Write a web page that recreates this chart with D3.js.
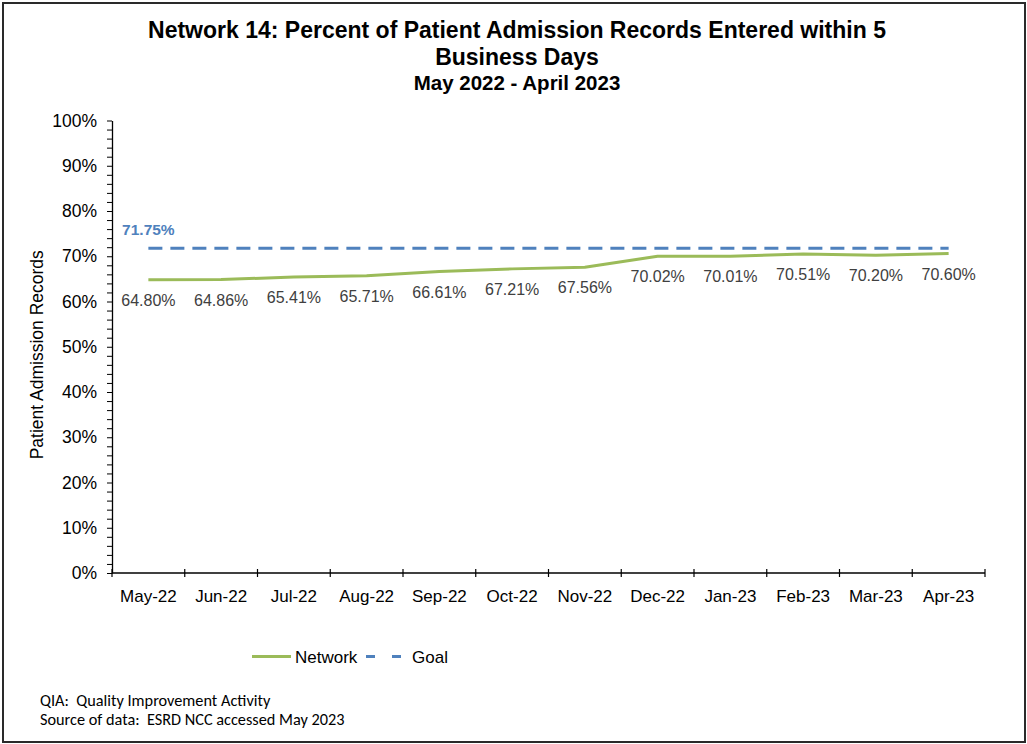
<!DOCTYPE html>
<html>
<head>
<meta charset="utf-8">
<script src="https://cdn.jsdelivr.net/npm/d3@7"></script>
<style>
  html, body { margin: 0; padding: 0; background: #fff; }
  svg { display: block; }
  .pre { white-space: pre; }
</style>
</head>
<body>
<svg id="chart" width="1027" height="744"></svg>
<script>
// Monthly categories and measured rates (percent)
const months = ["May-22", "Jun-22", "Jul-22", "Aug-22", "Sep-22", "Oct-22",
                "Nov-22", "Dec-22", "Jan-23", "Feb-23", "Mar-23", "Apr-23"];
const networkValues = [64.80, 64.86, 65.41, 65.71, 66.61, 67.21,
                       67.56, 70.02, 70.01, 70.51, 70.20, 70.60];
const goalValue = 71.75;
const yTicks = [0, 10, 20, 30, 40, 50, 60, 70, 80, 90, 100];

const titleLines = [
  "Network 14: Percent of Patient Admission Records Entered within 5",
  "Business Days"
];
const subtitle = "May 2022 - April 2023";
const notes = [
  "QIA:  Quality Improvement Activity",
  "Source of data:  ESRD NCC accessed May 2023"
];

(function draw() {
  const svg = d3.select("#chart");
  const W = 1027, H = 744;
  const font = "'Liberation Sans', Arial, sans-serif";
  const green = "#9BBB59", blue = "#4F81BD";

  // outer frame
  svg.append("rect").attr("x", 3).attr("y", 3).attr("width", W - 5).attr("height", H - 5)
    .attr("fill", "#fff").attr("stroke", "#2a2a2a").attr("stroke-width", 2);

  // plot area
  const plotLeft = 112, plotRight = 985, plotTop = 120.5, plotBottom = 573;

  const x = d3.scaleBand().domain(months).range([plotLeft, plotRight]).padding(0);
  const y = d3.scaleLinear().domain([0, 100]).range([plotBottom, plotTop]);
  const cx = d => x(d) + x.bandwidth() / 2;

  // titles
  const title = svg.append("g").attr("font-family", font).attr("font-weight", "bold")
    .attr("fill", "#000").attr("text-anchor", "middle");
  titleLines.forEach((t, i) => {
    title.append("text").attr("x", 517).attr("y", 38 + i * 27).attr("font-size", 23).text(t);
  });
  title.append("text").attr("x", 517).attr("y", 90).attr("font-size", 20.5).text(subtitle);

  // y axis with minor ticks every 2%
  const yMinor = d3.range(0, 101, 2).filter(v => v % 10 !== 0);
  svg.append("g").attr("transform", `translate(${plotLeft},0)`)
    .call(d3.axisLeft(y).tickValues(yMinor).tickSize(5).tickFormat(""))
    .call(g => g.select(".domain").remove())
    .call(g => g.selectAll("line").attr("stroke", "#000"));

  const yAxis = svg.append("g").attr("transform", `translate(${plotLeft},0)`)
    .call(d3.axisLeft(y).tickValues(yTicks).tickSize(5).tickSizeOuter(0).tickPadding(10)
          .tickFormat(d => d + "%"));
  yAxis.select(".domain").attr("stroke", "#000").attr("stroke-width", 1.3);
  yAxis.selectAll("line").attr("stroke", "#000");
  yAxis.selectAll("text").attr("font-family", font).attr("font-size", 17.5).attr("fill", "#000");

  // x axis with crossing ticks at band boundaries
  const xAxis = svg.append("g").attr("transform", `translate(0,${plotBottom})`)
    .call(d3.axisBottom(x).tickSize(0).tickPadding(17));
  xAxis.select(".domain").attr("d", `M${plotLeft},0H${plotRight}`).attr("stroke", "#000").attr("stroke-width", 1.3);
  xAxis.selectAll("text").attr("font-family", font).attr("font-size", 17).attr("fill", "#000");
  const bounds = months.map(m => x(m)).concat([plotRight]);
  xAxis.selectAll(".boundary").data(bounds).join("line").attr("class", "boundary")
    .attr("x1", d => d).attr("x2", d => d).attr("y1", -4).attr("y2", 4)
    .attr("stroke", "#000").attr("stroke-width", 1.2);

  // y axis title
  svg.append("text").attr("transform", `translate(43,${(plotTop + plotBottom) / 2 + 8}) rotate(-90)`)
    .attr("text-anchor", "middle").attr("font-family", font).attr("font-size", 17.5)
    .attr("fill", "#000").text("Patient Admission Records");

  // goal line
  svg.append("line")
    .attr("x1", cx(months[0])).attr("x2", cx(months[months.length - 1]))
    .attr("y1", y(goalValue)).attr("y2", y(goalValue))
    .attr("stroke", blue).attr("stroke-width", 3).attr("stroke-dasharray", "14,8");
  svg.append("text").attr("x", cx(months[0])).attr("y", y(goalValue) - 13)
    .attr("text-anchor", "middle").attr("font-family", font).attr("font-weight", "bold")
    .attr("font-size", 15.5).attr("fill", blue).text(goalValue.toFixed(2) + "%");

  // network line
  const line = d3.line().x((d, i) => cx(months[i])).y(d => y(d));
  svg.append("path").datum(networkValues).attr("d", line)
    .attr("fill", "none").attr("stroke", green).attr("stroke-width", 3)
    .attr("stroke-linejoin", "round");

  // data labels below each point
  svg.append("g").selectAll("text").data(networkValues).join("text")
    .attr("x", (d, i) => cx(months[i])).attr("y", d => y(d) + 26)
    .attr("text-anchor", "middle").attr("font-family", font).attr("font-size", 16)
    .attr("fill", "#404040").text(d => d.toFixed(2) + "%");

  // legend
  const lg = svg.append("g").attr("font-family", font).attr("font-size", 17).attr("fill", "#000");
  lg.append("line").attr("x1", 252).attr("x2", 291).attr("y1", 656.5).attr("y2", 656.5)
    .attr("stroke", green).attr("stroke-width", 3);
  lg.append("text").attr("x", 295).attr("y", 662.5).text("Network");
  lg.append("line").attr("x1", 366).attr("x2", 406).attr("y1", 656.5).attr("y2", 656.5)
    .attr("stroke", blue).attr("stroke-width", 3).attr("stroke-dasharray", "9,17");
  lg.append("text").attr("x", 412).attr("y", 662.5).text("Goal");

  // footnotes
  const nt = svg.append("g").attr("font-family", "Carlito, 'Open Sans', sans-serif")
    .attr("font-size", 16.3).attr("fill", "#000");
  notes.forEach((t, i) => {
    nt.append("text").attr("class", "pre").attr("x", 40).attr("y", 706 + i * 19).text(t);
  });
})();
</script>
</body>
</html>
